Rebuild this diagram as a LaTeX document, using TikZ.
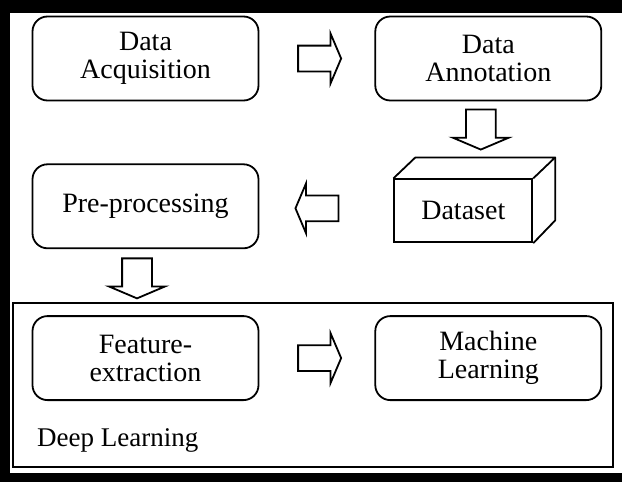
\documentclass[tikz,border=0pt]{standalone}
\usepackage{fontspec}
\setmainfont{Liberation Serif}
\usetikzlibrary{shapes.arrows, positioning, calc}

\begin{document}
\begin{tikzpicture}[
        x=1pt, y=-1pt,
        node distance=62pt and 115pt,
        font=\fontsize{28}{28}\selectfont,
        stepbox/.style={rectangle, draw, line width=1.8pt, rounded corners=15pt, align=center, minimum width=226pt, minimum height=84pt},
        databox/.style={rectangle, draw, line width=1.8pt, align=center, minimum width=138pt, minimum height=63pt},
        flow/.style={single arrow, draw, fill=white, line width=1.8pt, inner xsep=0pt, inner ysep=12pt, minimum height=43pt, minimum width=0pt, single arrow head extend=12pt, single arrow tip angle=134},
        flowdown/.style={flow, shape border rotate=270, inner xsep=14pt, inner ysep=0pt, minimum height=40pt, single arrow head extend=13pt}
    ]

    % --- Frame ---
    \useasboundingbox (0,0) rectangle (622,482);
    \fill[white] (0,0) rectangle (622,482);
    \fill[black] (0,0) rectangle (622,13);
    \fill[black] (0,0) rectangle (10,482);
    \fill[black] (0,473) rectangle (622,482);

    % --- Upper Steps ---
    \node (acq) [stepbox] at (145.5,58.5) {Data\\Acquisition};
    \node (ann) [stepbox, right=of acq] {Data\\Annotation};
    \node (pre) [stepbox, below=of acq] {Pre-processing};
    \node (ds) [databox, below=77pt of ann, xshift=-25pt] {Dataset};

    % --- Dataset Cube ---
    \coordinate (dstop) at ($(ds.north east)+(22,-21)$);
    \draw[line width=1.8pt, line join=round]
        (ds.north west) -- ++(22,-21) -- (dstop) -- (ds.north east);
    \draw[line width=1.8pt, line join=round]
        (dstop) -- ++(0,63) -- (ds.south east);

    % --- Deep Learning Group ---
    \draw[line width=1.5pt] (13,303) rectangle (613,467);
    \node (feat) [stepbox, below=66pt of pre] {Feature-\\extraction};
    \node (ml) [stepbox, right=of feat] {Machine\\Learning};
    \node (dl) [anchor=west, inner sep=0pt, font=\fontsize{27}{27}\selectfont] at (37,440) {Deep Learning};

    % --- Block Arrows ---
    \node (a1) [flow] at ($(acq.east)!.5!(ann.west)$) {};
    \node (a2) [flowdown] at ($(ann.south)+(-7.5,25)$) {};
    \node (a3) [flow, shape border rotate=180] at ($(pre.east)!.45!(ds.west)$) {};
    \node (a4) [flowdown] at ($(pre.south)+(-8.5,26)$) {};
    \node (a5) [flow] at ($(feat.east)!.5!(ml.west)$) {};

\end{tikzpicture}
\end{document}
